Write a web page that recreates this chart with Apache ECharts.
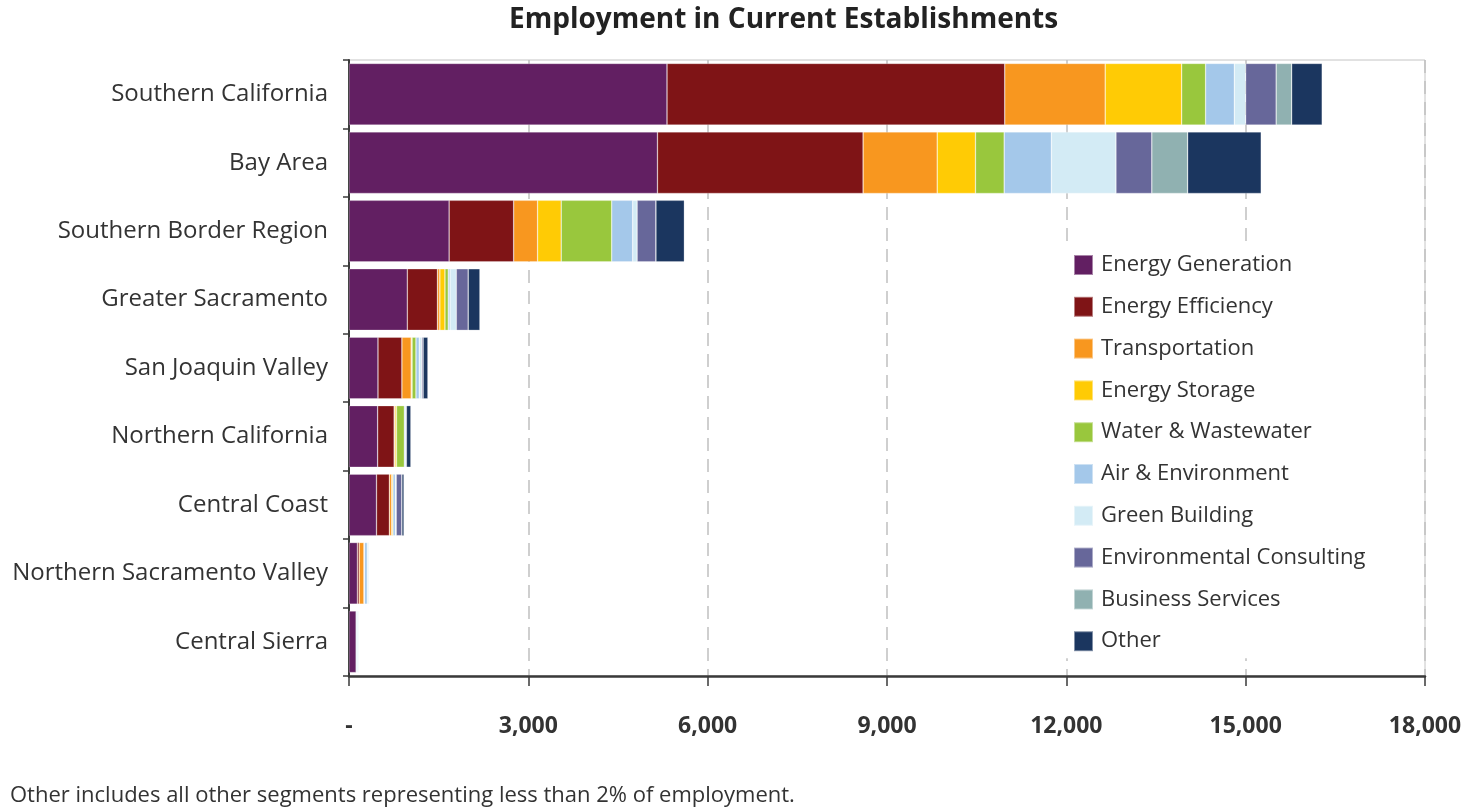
<!DOCTYPE html>
<html>
<head>
<meta charset="utf-8">
<title>Employment in Current Establishments</title>
<script src="https://cdn.jsdelivr.net/npm/echarts@6/dist/echarts.min.js"></script>
<style>
  html, body { margin: 0; padding: 0; background: #fff; }
  #chart { width: 1473px; height: 809px; }
</style>
</head>
<body>
<div id="chart"></div>
<script>
// Regions, top to bottom
const regions = [
  'Southern California', 'Bay Area', 'Southern Border Region', 'Greater Sacramento',
  'San Joaquin Valley', 'Northern California', 'Central Coast',
  'Northern Sacramento Valley', 'Central Sierra'
];

// Employment by segment, one value per region
const energyGeneration  = [5320, 5160, 1675, 975, 485, 480, 460, 140, 120];
const energyEfficiency  = [5650, 3440, 1080, 505, 400, 275, 215, 30, 5];
const transportation    = [1680, 1240, 400, 40, 155, 15, 40, 80, 0];
const energyStorage     = [1280, 640, 395, 85, 15, 25, 20, 10, 0];
const waterWastewater   = [400, 480, 845, 55, 65, 130, 0, 0, 0];
const airEnvironment    = [480, 790, 350, 30, 55, 20, 40, 45, 15];
const greenBuilding     = [190, 1080, 75, 105, 40, 15, 15, 30, 25];
const envConsulting     = [510, 600, 315, 200, 25, 0, 95, 0, 0];
const businessServices  = [260, 600, 0, 0, 0, 0, 0, 0, 0];
const otherSegments     = [510, 1230, 475, 195, 80, 75, 35, 0, 0];

const segmentNames = [
  'Energy Generation', 'Energy Efficiency', 'Transportation', 'Energy Storage',
  'Water & Wastewater', 'Air & Environment', 'Green Building',
  'Environmental Consulting', 'Business Services', 'Other'
];
const segmentValues = [
  energyGeneration, energyEfficiency, transportation, energyStorage,
  waterWastewater, airEnvironment, greenBuilding, envConsulting,
  businessServices, otherSegments
];
const segmentColors = [
  '#621f62', '#7f1416', '#f8971f', '#ffcb05', '#99c73d',
  '#a4c8ea', '#d3ebf5', '#67679a', '#90b1b1', '#1b365f'
];

// x-axis ticks
const xTicks = [0, 3000, 6000, 9000, 12000, 15000, 18000];

const FONT = '"Open Sans"';
const TEXT = '#333333';

const chart = echarts.init(document.getElementById('chart'), null, { renderer: 'canvas' });

const series = segmentNames.map((name, i) => ({
  name: name,
  type: 'bar',
  stack: 'total',
  barCategoryGap: '10%',
  data: segmentValues[i],
  itemStyle: {
    color: segmentColors[i],
    borderColor: 'rgba(255,255,255,0.45)',
    borderWidth: 0.6
  },
  emphasis: { disabled: true }
}));

chart.setOption({
  animation: false,
  backgroundColor: '#ffffff',
  grid: {
    left: 349, right: 48, top: 60, bottom: 133,
    show: true, borderColor: '#c4c4c4', borderWidth: 1, backgroundColor: 'transparent'
  },
  xAxis: {
    type: 'value',
    min: xTicks[0],
    max: xTicks[xTicks.length - 1],
    interval: 3000,
    axisLine: { show: true, onZero: false, lineStyle: { color: '#3a3a3a', width: 2.5 } },
    axisTick: { show: true, length: 10, lineStyle: { color: '#3a3a3a', width: 1.5 } },
    splitLine: { show: true, lineStyle: { color: '#c0c0c0', width: 1.5, type: [13, 8] } },
    axisLabel: {
      margin: 39,
      color: TEXT,
      fontFamily: FONT,
      fontWeight: 'bold',
      fontSize: 23,
      formatter: v => (v === 0 ? '-' : v.toLocaleString('en-US'))
    }
  },
  yAxis: {
    type: 'category',
    data: regions,
    inverse: true,
    axisLine: { show: true, lineStyle: { color: '#3a3a3a', width: 2 } },
    axisTick: { show: true, length: 6, lineStyle: { color: '#3a3a3a', width: 1.5 } },
    axisLabel: { margin: 21, color: TEXT, fontFamily: FONT, fontSize: 24 },
    splitLine: { show: false }
  },
  legend: {
    orient: 'vertical',
    left: 1063,
    top: 244,
    padding: [10, 12, 6, 10],
    backgroundColor: '#ffffff',
    itemWidth: 19,
    itemHeight: 20,
    itemGap: 19.8,
    icon: 'rect',
    data: segmentNames,
    textStyle: {
      color: TEXT, fontFamily: FONT, fontSize: 22, lineHeight: 20,
      padding: [0, 0, 0, 3]
    },
    selectedMode: false
  },
  graphic: [
    {
      type: 'text',
      left: 509,
      top: 6,
      style: {
        text: 'Employment in Current Establishments',
        fill: '#222222',
        font: 'bold 28px ' + FONT
      }
    },
    {
      type: 'text',
      left: 10,
      top: 785,
      style: {
        text: 'Other includes all other segments representing less than 2% of employment.',
        fill: TEXT,
        font: '22px ' + FONT
      }
    }
  ],
  series: series
});
</script>
</body>
</html>
